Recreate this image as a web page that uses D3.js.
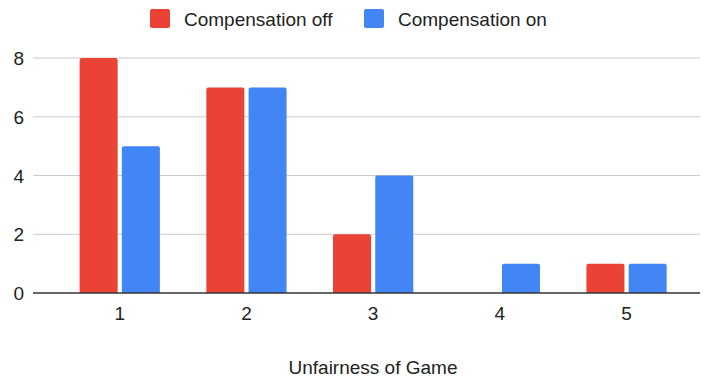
<!DOCTYPE html>
<html><head><meta charset="utf-8">
<script src="https://cdn.jsdelivr.net/npm/d3@7"></script>
<style>body{margin:0;background:#fff;} text{font-family:"Liberation Sans",Arial,sans-serif;}</style>
</head><body><svg id="c" width="703" height="382"></svg>
<script>
const categories = ["1","2","3","4","5"];
const seriesNames = ["Compensation off","Compensation on"];
const compOff = [8,7,2,0,1];
const compOn = [5,7,4,1,1];
const colors = ["#EA4335","#4285F4"];
const yTicks = [0,2,4,6,8];
const xTitle = "Unfairness of Game";

const svg = d3.select("#c");
const plot = {left:33,right:700,top:58,bottom:293};
const x = d3.scaleBand().domain(categories).range([56.4,689.9]);
const xs = d3.scaleBand().domain([0,1]).range([0,x.bandwidth()]).paddingInner(0.1).paddingOuter(0.55);
const y = d3.scaleLinear().domain([0,8]).range([plot.bottom,plot.top]);

svg.append("g").selectAll("line").data(yTicks.filter(d=>d>0)).join("line")
 .attr("x1",plot.left).attr("x2",plot.right).attr("y1",d=>y(d)).attr("y2",d=>y(d))
 .attr("stroke","#cccccc").attr("stroke-width",1);
svg.append("g").selectAll("text").data(yTicks).join("text")
 .attr("x",24).attr("y",d=>y(d)+7).attr("text-anchor","end")
 .attr("font-size",19).attr("fill","#222").text(d=>d);

[compOff,compOn].forEach((vals,si)=>{
 svg.append("g").selectAll("path").data(vals).join("path")
  .attr("fill",colors[si])
  .attr("d",(v,i)=>{
    if(v<=0) return "";
    const bx = x(categories[i])+xs(si), bw = xs.bandwidth();
    const by = y(v), bh = y(0)-y(v), r=2;
    return `M${bx},${by+bh}V${by+r}Q${bx},${by} ${bx+r},${by}H${bx+bw-r}Q${bx+bw},${by} ${bx+bw},${by+r}V${by+bh}Z`;
  });
});
svg.append("line").attr("x1",plot.left).attr("x2",plot.right).attr("y1",y(0)).attr("y2",y(0))
 .attr("stroke","#333").attr("stroke-width",1.5);

svg.append("g").selectAll("text").data(categories).join("text")
 .attr("x",d=>x(d)+x.bandwidth()/2).attr("y",320).attr("text-anchor","middle")
 .attr("font-size",19).attr("fill","#222").text(d=>d);
svg.append("text").attr("x",373).attr("y",374).attr("text-anchor","middle")
 .attr("font-size",19).attr("fill","#222").text(xTitle);

const legX=[150,364];
seriesNames.forEach((n,i)=>{
 svg.append("rect").attr("x",legX[i]).attr("y",9).attr("width",20).attr("height",19).attr("rx",2).attr("fill",colors[i]);
 svg.append("text").attr("x",legX[i]+34).attr("y",26).attr("font-size",19).attr("fill","#222").text(n);
});
</script></body></html>
